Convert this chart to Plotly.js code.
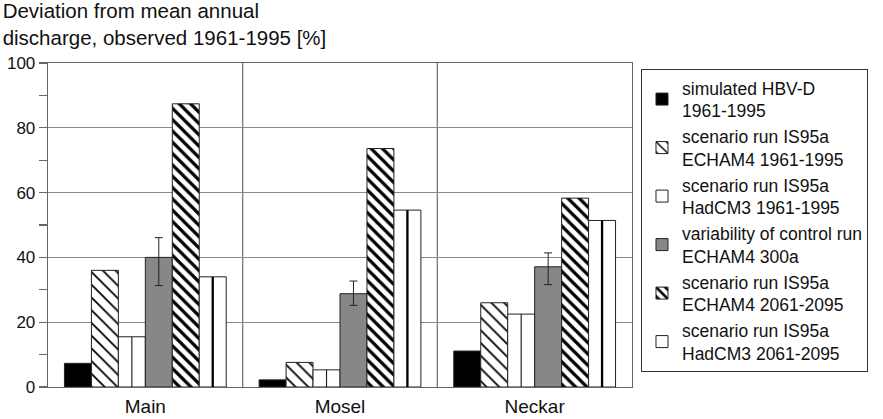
<!DOCTYPE html>
<html>
<head>
<meta charset="utf-8">
<script src="https://cdn.plot.ly/plotly-3.0.1.min.js"></script>
<style>html,body{margin:0;padding:0;background:#fff;}#chart{width:883px;height:419px;}</style>
</head>
<body>
<div id="chart"></div>
<script>
// ---- data ----
const categories = ['Main', 'Mosel', 'Neckar'];
const simHBV = [7.3, 2.2, 11.1];
const echam6195 = [36, 7.6, 26];
const hadcm6195 = [15.5, 5.3, 22.5];
const ctrlEcham = [40, 28.8, 37.1];
const ctrlErrPlus = [6.1, 3.9, 4.3];
const ctrlErrMinus = [8.7, 3.6, 5.5];
const echam2061 = [87.4, 73.6, 58.3];
const hadcm2061 = [34, 54.6, 51.4];
const seriesNames = [
  'simulated HBV-D<br>1961-1995',
  'scenario run IS95a<br>ECHAM4 1961-1995',
  'scenario run IS95a<br>HadCM3 1961-1995',
  'variability of control run<br>ECHAM4 300a',
  'scenario run IS95a<br>ECHAM4 2061-2095',
  'scenario run IS95a<br>HadCM3 2061-2095'
];
const yTicks = [0, 20, 40, 60, 80, 100];
const titleText = 'Deviation from mean annual<br>discharge, observed 1961-1995 [%]';

// ---- layout helpers ----
const FONT = '"Liberation Sans", Arial, sans-serif';
const BW = 0.1385;           // bar width (category units)
const GW = 6 * BW;
const off = i => -GW / 2 + i * BW;
const edge = {color: '#222', width: 1};

const traces = [
  {type: 'bar', name: seriesNames[0], x: categories, y: simHBV, offset: off(0), width: BW,
   marker: {color: '#000', line: edge}},
  {type: 'bar', name: seriesNames[1], x: categories, y: echam6195, offset: off(1), width: BW,
   marker: {color: '#fff', line: edge,
     pattern: {shape: '\\', size: 9, solidity: 0.2, fgcolor: '#000', bgcolor: '#fff', fillmode: 'replace'}}},
  {type: 'bar', name: seriesNames[2], x: categories, y: hadcm6195, offset: off(2), width: BW,
   marker: {color: '#fff', line: edge}},
  {type: 'bar', name: seriesNames[3], x: categories, y: ctrlEcham, offset: off(3), width: BW,
   marker: {color: '#878787', line: edge},
   error_y: {type: 'data', symmetric: false, array: ctrlErrPlus, arrayminus: ctrlErrMinus,
             color: '#222', thickness: 1, width: 4}},
  {type: 'bar', name: seriesNames[4], x: categories, y: echam2061, offset: off(4), width: BW,
   marker: {color: '#fff', line: edge,
     pattern: {shape: '\\', size: 8, solidity: 0.4, fgcolor: '#000', bgcolor: '#fff', fillmode: 'replace'}}},
  {type: 'bar', name: seriesNames[5], x: categories, y: hadcm2061, offset: off(5), width: BW,
   marker: {color: '#fff', line: edge}},
  // centre divider lines of the HadCM3 bars
  {type: 'bar', x: categories, y: hadcm6195, offset: off(2) + BW / 2 - 0.003, width: 0.006,
   marker: {color: '#222', line: {width: 0}}, showlegend: false, hoverinfo: 'skip'},
  {type: 'bar', x: categories, y: hadcm2061, offset: off(5) + BW / 2 - 0.006, width: 0.012,
   marker: {color: '#000', line: {width: 0}}, showlegend: false, hoverinfo: 'skip'}
];

const layout = {
  width: 883, height: 419,
  margin: {l: 48, r: 251, t: 63, b: 32},
  paper_bgcolor: '#fff', plot_bgcolor: '#fff',
  font: {family: FONT, color: '#111', size: 16},
  barmode: 'overlay',
  showlegend: true,
  title: {text: titleText, x: 0.003, xref: 'container', xanchor: 'left',
          y: 0.956, yref: 'container', yanchor: 'top',
          font: {family: FONT, size: 20.5, color: '#111'}},
  xaxis: {type: 'category', range: [-0.5, 2.5], showgrid: false, zeroline: false,
          showline: true, mirror: true, linecolor: '#666', linewidth: 1.3,
          ticks: '', ticklabelstandoff: 2,
          tickfont: {size: 19, family: FONT, color: '#111'}, fixedrange: true},
  yaxis: {range: [0, 100], tickvals: yTicks, ticks: 'outside', ticklen: 8, tickcolor: '#666', tickwidth: 1.3,
          showgrid: true, gridcolor: '#888', gridwidth: 1.3, zeroline: false,
          showline: true, mirror: true, linecolor: '#666', linewidth: 1.3,
          minor: {dtick: 10, tick0: 0, ticks: 'outside', ticklen: 8, tickcolor: '#666', tickwidth: 1.3, showgrid: false},
          tickfont: {size: 17, family: FONT, color: '#111'}, fixedrange: true},
  shapes: [0.5, 1.5].map(v => ({type: 'line', xref: 'x', yref: 'paper', x0: v, x1: v, y0: 0, y1: 1,
           layer: 'below', line: {color: '#777', width: 1.3}})),
  legend: {x: 1.0154, y: 0.982, xanchor: 'left', yanchor: 'top',
           bordercolor: '#333', borderwidth: 1, bgcolor: '#fff',
           font: {family: FONT, size: 17.5, color: '#111'}, itemwidth: 30, tracegroupgap: 0}
};

Plotly.newPlot('chart', traces, layout, {displayModeBar: false, staticPlot: true});
</script>
</body>
</html>
